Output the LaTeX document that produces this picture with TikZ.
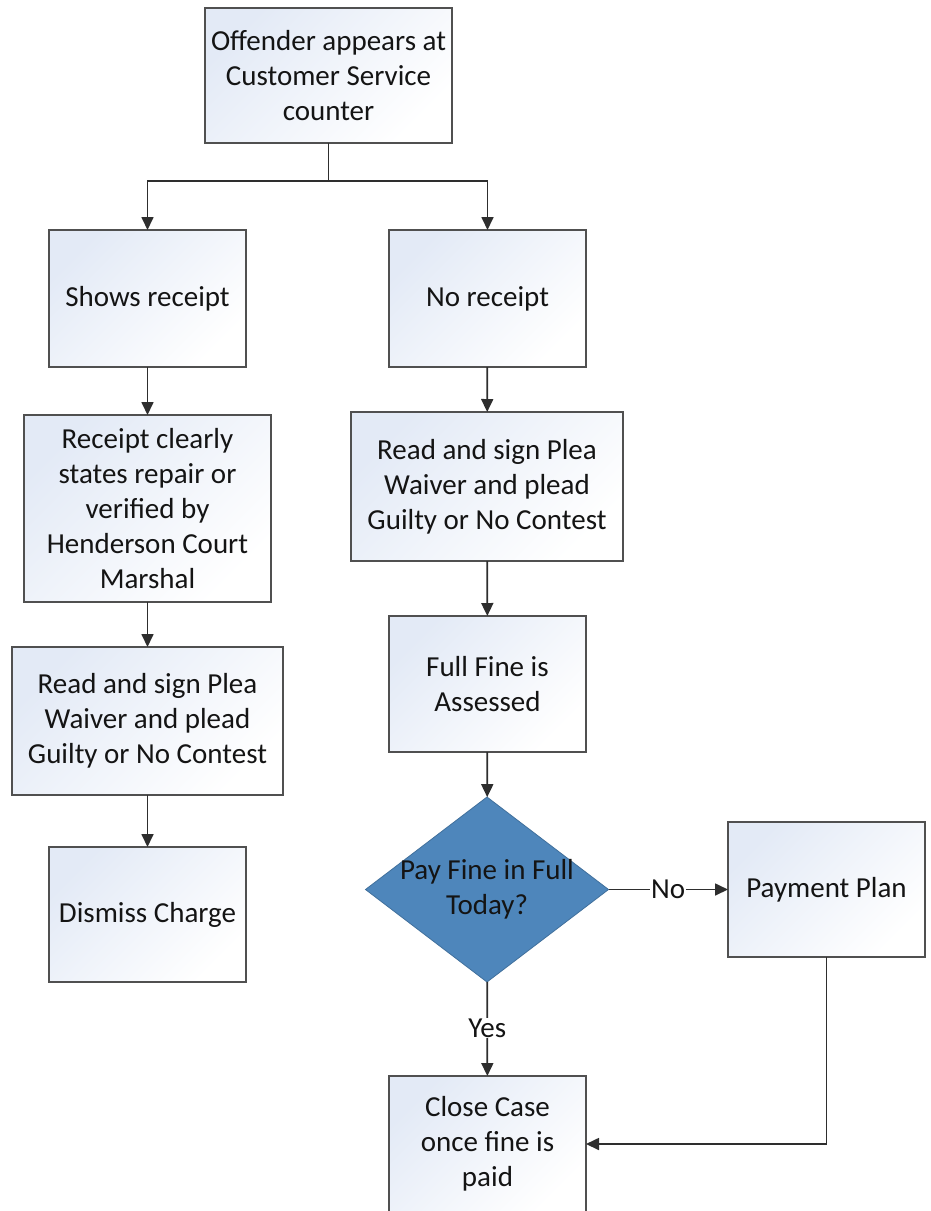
\documentclass[tikz,border=0pt]{standalone}
\usepackage{fontspec}
\setmainfont{Carlito}
\usetikzlibrary{shapes.geometric,arrows.meta}
\definecolor{boxline}{HTML}{505050}
\definecolor{conn}{HTML}{2E2E2E}
\definecolor{shadeblue}{HTML}{E3EAF6}
\definecolor{diafill}{HTML}{4E86BB}
\definecolor{diaedge}{HTML}{41709C}
\definecolor{txt}{HTML}{141414}
\tikzset{
  procbox/.style={rectangle, draw=boxline, line width=1.8pt, top color=shadeblue, bottom color=white, shading angle=45,
    align=center, text=txt, inner sep=0pt, outer sep=0pt,
    font=\fontsize{29}{34.8}\selectfont},
  decbox/.style={diamond, draw=diaedge, line width=0.8pt, fill=diafill, inner sep=0pt, outer sep=0pt},
  dectext/.style={align=center, text=txt, font=\fontsize{29}{34.8}\selectfont},
  lab/.style={fill=white, text=txt, inner sep=1pt, font=\fontsize{29}{34.8}\selectfont},
  conline/.style={draw=conn, line width=1.7pt},
  arr/.style={conline, -{Triangle[length=13pt,width=12pt]}},
}
\begin{document}
\begin{tikzpicture}[x=1pt,y=-1pt]
\useasboundingbox (0,0) rectangle (930,1211);
\clip (0,0) rectangle (930,1211);
\node[procbox, minimum width=247pt, minimum height=135pt] (top) at (328.5,75.5) {Offender appears at\\Customer Service\\counter};
\node[procbox, minimum width=197pt, minimum height=137pt] (shows) at (147.5,298.5) {Shows receipt};
\node[procbox, minimum width=197pt, minimum height=137pt] (nor) at (487.5,298.5) {No receipt};
\node[procbox, minimum width=247pt, minimum height=187pt] (clear) at (147.5,508.5) {Receipt clearly\\states repair or\\verified by\\Henderson Court\\Marshal};
\node[procbox, minimum width=271pt, minimum height=148pt] (readL) at (147.5,721) {Read and sign Plea\\Waiver and plead\\Guilty or No Contest};
\node[procbox, minimum width=197pt, minimum height=135pt] (dismiss) at (147.5,914.5) {Dismiss Charge};
\node[procbox, minimum width=272pt, minimum height=149pt] (readR) at (487,486.5) {Read and sign Plea\\Waiver and plead\\Guilty or No Contest};
\node[procbox, minimum width=197pt, minimum height=136pt] (full) at (487.5,684) {Full Fine is\\Assessed};
\node[decbox, minimum width=243pt, minimum height=185pt] (dec) at (487,889.5) {};
\node[dectext] at (dec.center) {Pay Fine in Full\\Today?};
\node[procbox, minimum width=197pt, minimum height=135pt] (pay) at (826.5,889.5) {Payment Plan};
\node[procbox, minimum width=197pt, minimum height=136pt] (close) at (487.5,1144) {Close Case\\once fine is\\paid};
\coordinate (split) at (328.5,181);
\draw[conline] (top.south) -- (split);
\draw[arr] (split) -| (shows.north);
\draw[arr] (split) -| (nor.north);
\draw[arr] (shows) -- (clear);
\draw[arr] (clear) -- (readL);
\draw[arr] (readL) -- (dismiss);
\draw[arr] (nor) -- (readR);
\draw[arr] (readR) -- (full);
\draw[arr] (full) -- (dec);
\draw[arr] (dec) -- node[lab, pos=0.5] {No} (pay);
\draw[arr] (dec) -- node[lab, pos=0.49] {Yes} (close);
\draw[arr] (pay.south) |- (close.east);
\end{tikzpicture}
\end{document}
